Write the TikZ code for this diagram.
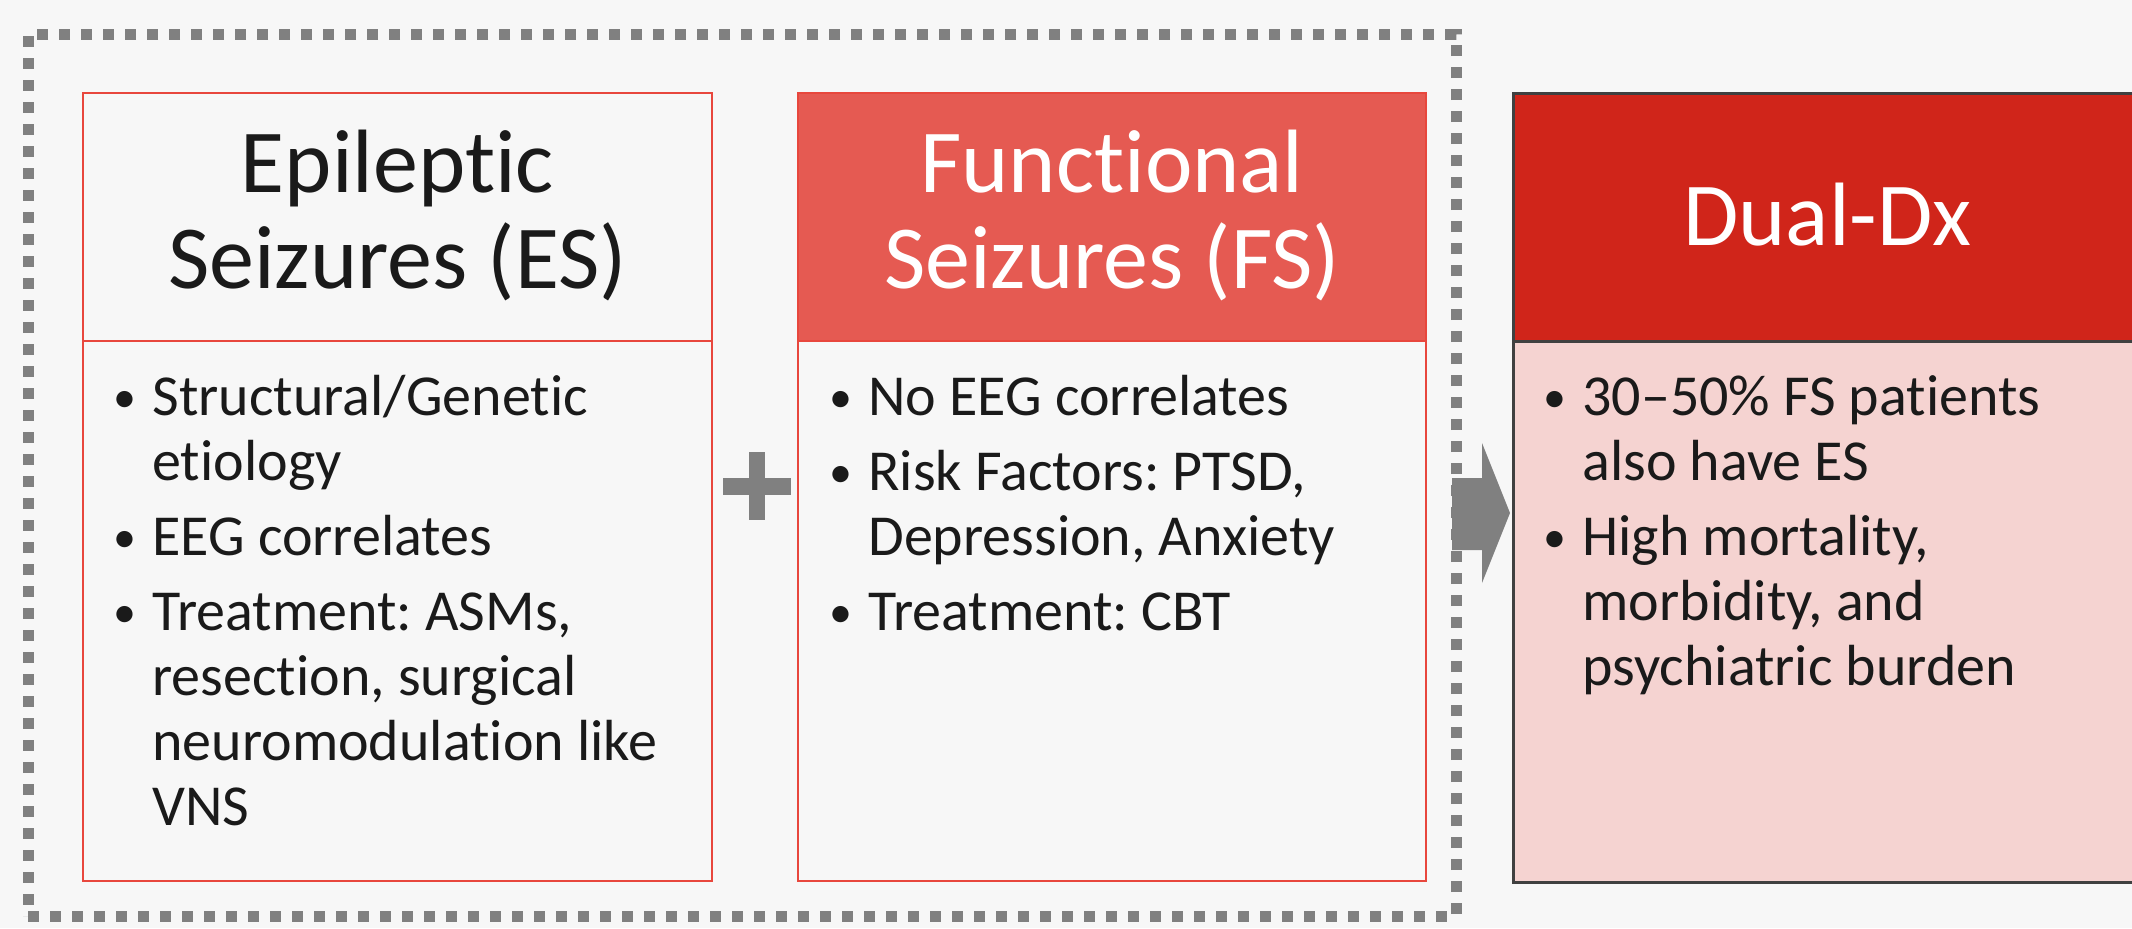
\documentclass[tikz,border=0pt]{standalone}
\usepackage{fontspec}
\setmainfont{Carlito}[Ligatures=NoCommon]
\definecolor{bg}{HTML}{F7F7F7}
\definecolor{redline}{HTML}{E8473D}
\definecolor{fshead}{HTML}{E55A52}
\definecolor{dualhead}{HTML}{D0251A}
\definecolor{dualbody}{HTML}{F5D3D1}
\definecolor{darkline}{HTML}{404040}
\definecolor{grayarrow}{HTML}{808080}
\definecolor{ink}{HTML}{1A1A1A}
\newcommand{\bitem}[1]{\hbox{\makebox[16pt][l]{\hspace*{-3.5pt}\raisebox{1.2pt}{\fontsize{23}{23}\selectfont •}}#1}}
\newcommand{\cont}[1]{\hbox{\hspace*{16pt}#1}}
\newcommand{\igap}{\vskip5pt}
\newcommand{\ctrln}[1]{\hbox to 0pt{\hss#1\hss}}
\tikzset{
  redbox/.style={draw=redline, line width=1pt, rectangle, inner sep=0pt},
  darkbox/.style={draw=darkline, line width=1.5pt, rectangle, inner sep=0pt},
  headtext/.style={anchor=base, inner sep=0pt, font=\fontsize{45}{48}\selectfont},
  bodytext/.style={anchor=base west, inner sep=0pt, text=ink, font=\fontsize{29}{32.5}\selectfont\frenchspacing},
  groupframe/.style={draw=grayarrow, line width=5.5pt, dash pattern=on 5.5pt off 5.5pt, rectangle, inner sep=0pt},
}
\begin{document}
\begin{tikzpicture}[x=0.5pt,y=-0.5pt]
\useasboundingbox[fill=bg] (0,0) rectangle (2132,928);
\clip (0,0) rectangle (2132,928);
% group frame
\node[groupframe, minimum width=714pt, minimum height=441pt] (grp) at (742,475) {};
% ES box
\node[redbox, fill=bg, minimum width=314.5pt, minimum height=124pt] (eshead) at (397.5,217) {};
\node[redbox, fill=bg, minimum width=314.5pt, minimum height=270pt] (esbody) at (397.5,611) {};
% FS box
\node[redbox, fill=fshead, minimum width=314pt, minimum height=124pt] (fshd) at (1112,217) {};
\node[redbox, fill=bg, minimum width=314pt, minimum height=270pt] (fsbody) at (1112,611) {};
% Dual box
\node[darkbox, fill=dualhead, minimum width=314.5pt, minimum height=124pt] (dualhd) at (1827.5,217) {};
\node[darkbox, fill=dualbody, minimum width=314.5pt, minimum height=270.5pt] (dualbody) at (1827.5,611.5) {};
% header texts
\node[headtext, text=ink] (est) at (397.5,192) {\vtop{\ctrln{Epileptic}\ctrln{Seizures (ES)}}};
\node[headtext, text=white] (fst) at (1112,192) {\vtop{\ctrln{Functional}\ctrln{Seizures (FS)}}};
\node[headtext, text=white] (dualt) at (1827.5,245) {Dual-Dx};
% body texts
\node[bodytext] (esl) at (120,415) {\vtop{\bitem{Structural/Genetic}\cont{etiology}\igap\bitem{EEG correlates}\igap\bitem{Treatment: ASMs,}\cont{resection, surgical}\cont{neuromodulation like}\cont{VNS}}};
\node[bodytext] (fsl) at (836,415) {\vtop{\bitem{No EEG correlates}\igap\bitem{Risk Factors: PTSD,}\cont{Depression, Anxiety}\igap\bitem{Treatment: CBT}}};
\node[bodytext] (dul) at (1550,415) {\vtop{\bitem{30–50\% FS patients}\cont{also have ES}\igap\bitem{High mortality,}\cont{morbidity, and}\cont{psychiatric burden}}};
% plus sign
\coordinate (plusc) at (757,486);
\fill[grayarrow] ([xshift=-17pt,yshift=4.25pt]plusc) rectangle ([xshift=17pt,yshift=-4.25pt]plusc);
\fill[grayarrow] ([xshift=-4pt,yshift=17pt]plusc) rectangle ([xshift=4pt,yshift=-17pt]plusc);
% block arrow
\coordinate (a1) at (1452,478);
\coordinate (a2) at (1482,478);
\coordinate (a3) at (1482,443);
\coordinate (tip) at (1510,513);
\coordinate (a5) at (1482,583);
\coordinate (a6) at (1482,550);
\coordinate (a7) at (1452,550);
\fill[grayarrow] (a1) -- (a2) -- (a3) -- (tip) -- (a5) -- (a6) -- (a7) -- cycle;
\end{tikzpicture}
\end{document}
